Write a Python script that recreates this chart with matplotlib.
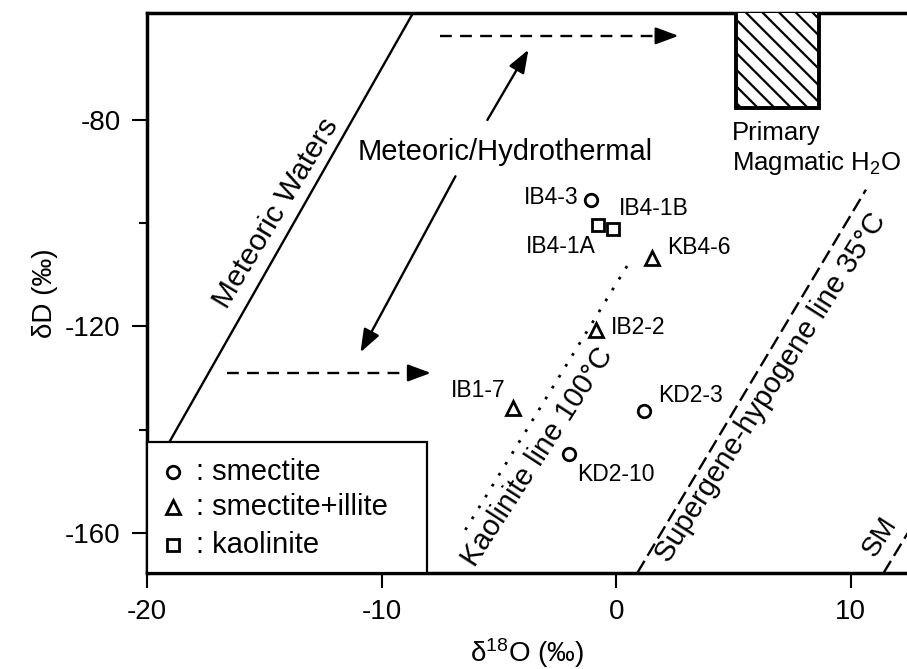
import numpy as np
import matplotlib
matplotlib.use('Agg')
import matplotlib.pyplot as plt
from matplotlib.patches import Rectangle

plt.rcParams['font.family'] = ['Liberation Sans', 'DejaVu Sans']
plt.rcParams['mathtext.fontset'] = 'custom'
plt.rcParams['mathtext.rm'] = 'Liberation Sans'
plt.rcParams['mathtext.it'] = 'Liberation Sans:italic'
plt.rcParams['axes.unicode_minus'] = False
plt.rcParams['hatch.linewidth'] = 1.6

# sample data (d18O, dD)
smectite_names = ['IB4-3', 'KD2-3', 'KD2-10']
smectite_x = [-1.09, 1.17, -2.03]
smectite_y = [-95.5, -136.4, -144.7]

illite_names = ['KB4-6', 'IB2-2', 'IB1-7']
illite_x = [1.51, -0.88, -4.38]
illite_y = [-106.7, -120.7, -135.8]

kaol_names = ['IB4-1A', 'IB4-1B']
kaol_x = [-0.79, -0.15]
kaol_y = [-100.3, -101.1]

# reference lines
mwl_x = [-20.0, -8.0]            # dD = 8 d18O + 10
kaolinite_x = [-6.43, 0.49]      # kaolinite line 100C
kaolinite_y = [-159.4, -108.1]
sh_x = [0.9, 10.65]              # supergene-hypogene line 35C
sh_y = [-167.75, -93.5]
sm_x = [11.4, 13.0]
sm_y = [-167.75, -155.75]

# primary magmatic water box
pmw_x = [5.1, 8.64]
pmw_y = [-77.7, -50.0]

# dashed shift arrows (start, end) and solid mixing arrows
shift_arrows = [((-7.5, -63.7), (2.66, -63.7)), ((-16.6, -129.0), (-7.9, -129.0))]
mix_arrows = [((-5.49, -80.0), (-3.74, -66.4)), ((-6.85, -90.9), (-10.9, -125.0))]

# label offsets (points) and alignment
label_style = {
    'IB4-3': (-8.6, 2, 'right'),
    'IB4-1B': (4.3, 14.4, 'left'),
    'IB4-1A': (-1.4, -15.8, 'right'),
    'KB4-6': (11.5, 7.2, 'left'),
    'IB2-2': (10.8, 2.2, 'left'),
    'IB1-7': (-5.8, 13, 'right'),
    'KD2-3': (10.8, 11.5, 'left'),
    'KD2-10': (6.5, -15, 'left'),
}

fig = plt.figure(figsize=(9.07, 6.69), dpi=100)
ax = fig.add_axes([0.1621, 0.1435, 0.8379, 0.8371])
ax.set_xlim(-20, 12.4)
ax.set_ylim(-167.75, -59.27)

# lines
mx = np.array(mwl_x)
ax.plot(mx, 8 * mx + 10, color='k', lw=1.7, zorder=2)
ax.plot(kaolinite_x, kaolinite_y, color='k', lw=2.0, linestyle=(0, (1, 3.6)), zorder=2)
ax.plot(sh_x, sh_y, color='k', lw=1.7, linestyle=(0, (6, 2.5)), zorder=2)
ax.plot(sm_x, sm_y, color='k', lw=1.7, linestyle=(0, (6, 2.5)), zorder=2)

# hatched box
ax.add_patch(Rectangle((pmw_x[0], pmw_y[0]), pmw_x[1] - pmw_x[0], pmw_y[1] - pmw_y[0],
                       facecolor='white', edgecolor='k', lw=2.8, hatch='\\\\', zorder=3))

# arrows
head = '-|>,head_length=0.7,head_width=0.26'
for (x0, y0), (x1, y1) in shift_arrows:
    ax.plot([x0, x1 - 0.5], [y0, y1], color='k', lw=1.7, linestyle=(0, (5, 3.5)))
    ax.annotate('', xy=(x1, y1), xytext=(x1 - 0.6, y1),
                arrowprops=dict(arrowstyle=head, lw=1.7, color='k',
                                mutation_scale=20, shrinkA=0, shrinkB=0))
for (x0, y0), (x1, y1) in mix_arrows:
    ax.annotate('', xy=(x1, y1), xytext=(x0, y0),
                arrowprops=dict(arrowstyle=head, lw=1.7, color='k',
                                mutation_scale=20, shrinkA=0, shrinkB=0))

# samples
mk = dict(linestyle='none', mfc='white', mec='k', mew=2.0, zorder=4)
ax.plot(smectite_x, smectite_y, marker='o', ms=9, **mk)
ax.plot(illite_x, illite_y, marker='^', ms=9.5, **mk)
ax.plot(kaol_x, kaol_y, marker='s', ms=8, **mk)

for names, xs, ys in [(smectite_names, smectite_x, smectite_y),
                      (illite_names, illite_x, illite_y),
                      (kaol_names, kaol_x, kaol_y)]:
    for n, x, y in zip(names, xs, ys):
        dx, dy, ha = label_style[n]
        ax.annotate(n, (x, y), xytext=(dx, dy), textcoords='offset points',
                    ha=ha, va='center', fontsize=16.5, zorder=5)


def line_angle(x0, y0, x1, y1):
    p = ax.transData.transform([[x0, y0], [x1, y1]])
    return np.degrees(np.arctan2(p[1, 1] - p[0, 1], p[1, 0] - p[0, 0]))


ax.text(-14.5, -98.0, 'Meteoric Waters', fontsize=21.5, ha='center', va='center',
        rotation=line_angle(-20, -150, -8, -54) - 1.5, rotation_mode='anchor')
ax.text(-3.35, -145.3, 'Kaolinite line 100°C', fontsize=21, ha='center', va='center',
        rotation=line_angle(kaolinite_x[0], kaolinite_y[0], kaolinite_x[1], kaolinite_y[1]) - 1.5,
        rotation_mode='anchor')
ax.text(6.59, -131.9, 'Supergene-hypogene line 35°C', fontsize=21, ha='center', va='center',
        rotation=line_angle(sh_x[0], sh_y[0], sh_x[1], sh_y[1]) - 1.5, rotation_mode='anchor')
ax.text(11.24, -160.8, 'SM', fontsize=20, ha='center', va='center',
        rotation=line_angle(sm_x[0], sm_y[0], sm_x[1], sm_y[1]) - 1.5, rotation_mode='anchor')

ax.text(-4.74, -87.7, 'Meteoric/Hydrothermal', fontsize=21, ha='center', va='baseline')
ax.text(4.95, -83.9, 'Primary', fontsize=18.5, ha='left', va='baseline')
ax.text(4.95, -89.7, 'Magmatic H$_2$O', fontsize=18.5, ha='left', va='baseline')

# legend box
ax.add_patch(Rectangle((0, 0), 0.368, 0.234, transform=ax.transAxes, facecolor='white',
                       edgecolor='k', lw=1.6, zorder=6, clip_on=False))
leg_rows = [('o', ': smectite', 0.180, 9), ('^', ': smectite+illite', 0.118, 9.5),
            ('s', ': kaolinite', 0.05, 8)]
for m, txt, yy, ms in leg_rows:
    ax.plot([0.034], [yy], marker=m, ms=ms, transform=ax.transAxes,
            clip_on=False, **{**mk, 'zorder': 7})
    ax.text(0.064, yy, txt, transform=ax.transAxes, fontsize=21, ha='left', va='center', zorder=7)

# axes styling
ax.spines['right'].set_visible(False)
for s in ['left', 'bottom', 'top']:
    ax.spines[s].set_linewidth(2.5)
ax.set_xticks([-20, -10, 0, 10])
ax.set_yticks([-80, -120, -160])
ax.set_yticks([-100, -140], minor=True)
ax.tick_params(axis='both', which='major', direction='out', length=11, width=1.5,
               labelsize=20, pad=8)
ax.tick_params(axis='y', which='minor', direction='out', length=6, width=1.5)
ax.tick_params(axis='x', top=False)
ax.set_xlabel('δ$^{18}$O (‰)', fontsize=20, labelpad=8)
ax.set_ylabel('δD (‰)', fontsize=20, labelpad=5)

fig.savefig('out.png', dpi=100)
